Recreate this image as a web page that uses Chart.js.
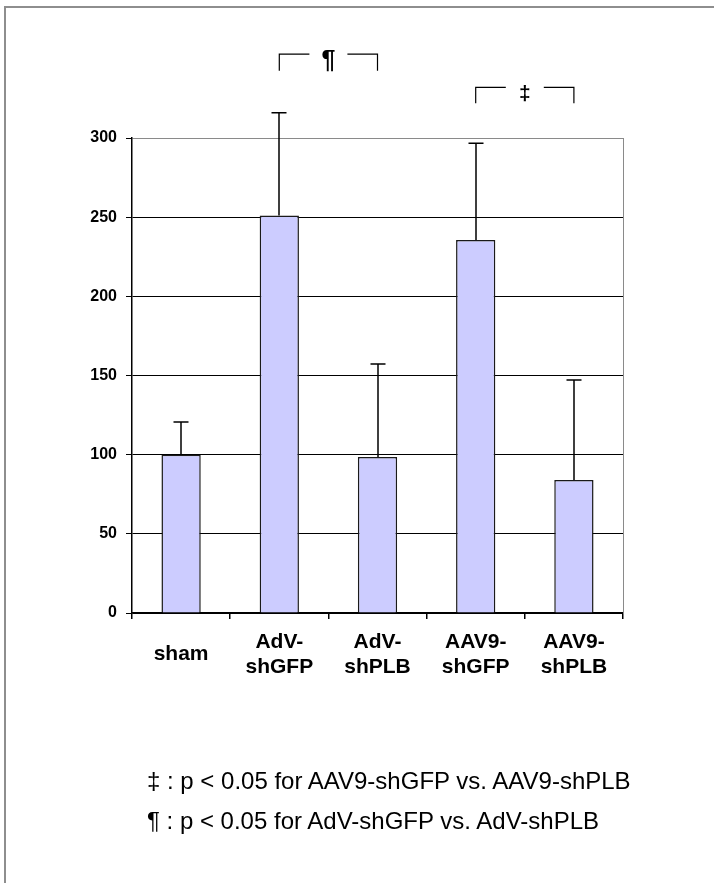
<!DOCTYPE html>
<html>
<head>
<meta charset="utf-8">
<script src="https://cdn.jsdelivr.net/npm/chart.js@4.4.1/dist/chart.umd.min.js"></script>
<style>
  html,body{margin:0;padding:0;background:#fff;}
  #wrap{position:relative;width:714px;height:883px;overflow:hidden;}
  #frame{position:absolute;left:4px;top:6px;width:720px;height:900px;border-top:2px solid #8e8e8e;border-left:2px solid #8e8e8e;}
  canvas{position:absolute;left:0;top:0;}
  .note{position:absolute;left:147px;font-family:"Liberation Sans",Arial,sans-serif;font-size:24px;line-height:24px;color:#000;white-space:nowrap;}
</style>
</head>
<body>
<div id="wrap">
  <div id="frame"></div>
  <canvas id="chart" width="714" height="883"></canvas>
  <div class="note" style="top:769px">‡ : p &lt; 0.05 for AAV9-shGFP vs. AAV9-shPLB</div>
  <div class="note" style="top:809px">¶ : p &lt; 0.05 for AdV-shGFP vs. AdV-shPLB</div>
</div>
<script>
// ===== Data =====
const groups = [["sham"],["AdV-","shGFP"],["AdV-","shPLB"],["AAV9-","shGFP"],["AAV9-","shPLB"]];
const means = [100, 251, 98.5, 235.6, 84];
const errUp = [20.6, 65, 58.8, 61.1, 63.2];
const yTicks = [0, 50, 100, 150, 200, 250, 300];

// significance brackets (group index from/to, symbol, heights in axis units)
const bracketFrom = [1, 3];
const bracketTo = [2, 4];
const bracketSym = ["¶", "‡"];
const bracketTop = [353, 332];
const bracketBottom = [342.5, 322];

const family = '"Liberation Sans", Arial, sans-serif';

// ===== Extras: right border, error bars, brackets =====
const extras = {
  id: 'extras',
  afterDatasetsDraw(chart){
    const {ctx, chartArea, scales:{x, y}} = chart;
    ctx.save();
    const rx = Math.round(chartArea.right) + 0.5;
    ctx.strokeStyle = '#8a8a8a'; ctx.lineWidth = 1;
    ctx.beginPath(); ctx.moveTo(rx, chartArea.top); ctx.lineTo(rx, chartArea.bottom); ctx.stroke();

    ctx.strokeStyle = '#000'; ctx.lineWidth = 1.5;
    means.forEach((m, i) => {
      const px = Math.round(x.getPixelForValue(i));
      const y0 = y.getPixelForValue(m), y1 = y.getPixelForValue(m + errUp[i]);
      ctx.beginPath();
      ctx.moveTo(px, y0); ctx.lineTo(px, y1);
      ctx.moveTo(px - 7.5, y1); ctx.lineTo(px + 7.5, y1);
      ctx.stroke();
    });

    ctx.lineWidth = 1.2;
    ctx.fillStyle = '#000';
    ctx.textAlign = 'center'; ctx.textBaseline = 'middle';
    bracketSym.forEach((s, i) => {
      const xa = x.getPixelForValue(bracketFrom[i]), xb = x.getPixelForValue(bracketTo[i]);
      const yt = y.getPixelForValue(bracketTop[i]), yb = y.getPixelForValue(bracketBottom[i]);
      const xm = (xa + xb) / 2, gap = 19;
      ctx.beginPath();
      ctx.moveTo(xa, yb); ctx.lineTo(xa, yt); ctx.lineTo(xm - gap, yt);
      ctx.moveTo(xm + gap, yt); ctx.lineTo(xb, yt); ctx.lineTo(xb, yb);
      ctx.stroke();
      ctx.font = 'bold ' + (s === '¶' ? 25 : 21) + 'px ' + family;
      ctx.fillText(s, xm, yt + 7);
    });
    ctx.restore();
  }
};

// ===== Chart =====
new Chart(document.getElementById('chart'), {
  type: 'bar',
  data: {
    labels: groups,
    datasets: [{
      data: means,
      backgroundColor: '#ccccff',
      borderColor: '#1a1a1a',
      borderWidth: 1.5,
      barPercentage: 0.4,
      categoryPercentage: 1.0
    }]
  },
  options: {
    responsive: false,
    animation: false,
    devicePixelRatio: 1,
    layout: {padding: {left: 0, top: 138, right: 91, bottom: 0}},
    plugins: {legend: {display: false}, tooltip: {enabled: false}},
    scales: {
      x: {
        grid: {drawOnChartArea: false, offset: true, tickLength: 6, color: '#000', lineWidth: 1.5},
        border: {color: '#000', width: 1.5},
        ticks: {color: '#000', font: {family, size: 21, weight: 'bold', lineHeight: 1.2},
                padding: 23, maxRotation: 0, autoSkip: false, crossAlign: 'center'},
        afterFit(s){ s.height = 270; }
      },
      y: {
        min: 0, max: 300,
        afterBuildTicks(s){ s.ticks = yTicks.map(v => ({value: v})); },
        grid: {color: c => (c.tick && c.tick.value === 300) ? '#8a8a8a' : '#000',
               tickColor: '#000', tickLength: 6, lineWidth: 1},
        border: {color: '#000', width: 1.5},
        ticks: {color: '#000', font: {family, size: 16, weight: 'bold'}, padding: 9},
        afterFit(s){ s.width = 132; }
      }
    }
  },
  plugins: [extras]
});
</script>
</body>
</html>
